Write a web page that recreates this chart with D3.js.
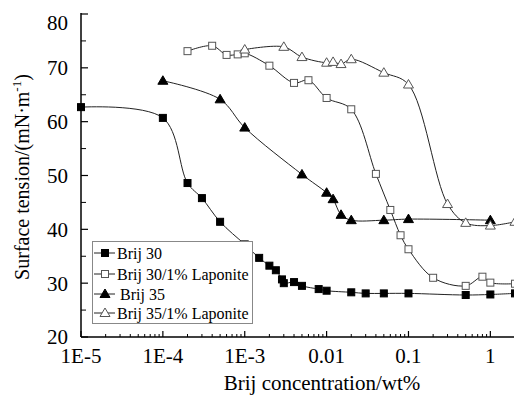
<!DOCTYPE html>
<html><head><meta charset="utf-8">
<script src="https://cdn.jsdelivr.net/npm/d3@7"></script>
<style>body{margin:0;background:#fff}svg{display:block}</style>
</head><body>
<svg id="c" width="514" height="396" font-family="'Liberation Serif', 'Times New Roman', Times, 'DejaVu Serif', serif"></svg>
<script>
// Data
const brij30X = [1e-5, 1e-4, 2e-4, 3e-4, 5e-4, 1e-3, 1.5e-3, 2e-3, 2.4e-3, 2.85e-3, 3e-3, 4e-3, 5e-3, 8e-3, 0.01, 0.02, 0.03, 0.05, 0.1, 0.5, 1, 2];
const brij30Y = [62.7, 60.7, 48.6, 45.8, 41.4, 37.2, 34.7, 33.25, 32.4, 30.7, 30.0, 30.2, 29.5, 28.9, 28.6, 28.3, 28.1, 28.1, 28.1, 27.8, 27.9, 28.1];
const brij30LapX = [2e-4, 4e-4, 6e-4, 8.2e-4, 1e-3, 2e-3, 4e-3, 6e-3, 0.01, 0.02, 0.04, 0.06, 0.08, 0.1, 0.2, 0.5, 0.8, 1, 2];
const brij30LapY = [73.1, 74.1, 72.4, 72.5, 72.7, 70.4, 67.2, 67.7, 64.4, 62.3, 50.3, 43.6, 38.9, 36.3, 31.0, 29.5, 31.2, 30.1, 29.9];
const brij35X = [1e-4, 5e-4, 1e-3, 5e-3, 0.01, 0.012, 0.015, 0.02, 0.05, 0.1, 1];
const brij35Y = [67.6, 64.15, 58.9, 50.2, 46.8, 45.6, 42.7, 41.7, 41.7, 41.9, 41.7];
const brij35LapX = [1e-3, 3e-3, 5e-3, 0.01, 0.012, 0.015, 0.02, 0.05, 0.1, 0.3, 0.5, 1, 2];
const brij35LapY = [73.4, 73.9, 72.0, 70.95, 71.1, 70.7, 71.6, 69.1, 66.9, 44.7, 41.2, 40.7, 41.4];
const seriesNames = ["Brij 30", "Brij 30/1% Laponite", "Brij 35", "Brij 35/1% Laponite"];
const xTickValues = [1e-5, 1e-4, 1e-3, 0.01, 0.1, 1];
const xTickLabels = ["1E-5", "1E-4", "1E-3", "0.01", "0.1", "1"];
const yTickValues = [20, 30, 40, 50, 60, 70, 80];

const series = [
  {name: seriesNames[0], xs: brij30X, ys: brij30Y, shape: "square", filled: true},
  {name: seriesNames[1], xs: brij30LapX, ys: brij30LapY, shape: "square", filled: false},
  {name: seriesNames[2], xs: brij35X, ys: brij35Y, shape: "triangle", filled: true},
  {name: seriesNames[3], xs: brij35LapX, ys: brij35LapY, shape: "triangle", filled: false}
];

const svg = d3.select("#c");
const L = 81, B = 337, T = 14;
const perDecade = 81.87;
const x = d3.scaleLog().domain([1e-5, 2]).range([L, L + perDecade * Math.log10(2e5)]);
const y = d3.scaleLinear().domain([20, 80]).range([B, T]);

const line = d3.line().x(d => x(d[0])).y(d => y(d[1])).curve(d3.curveCatmullRom.alpha(0.5));

const gPlot = svg.append("g");
series.forEach(s => {
  const pts = s.xs.map((v, i) => [v, s.ys[i]]);
  gPlot.append("path").attr("d", line(pts)).attr("fill", "none")
    .attr("stroke", "#222").attr("stroke-width", 1);
});

function marker(g, s, cx, cy) {
  const fill = s.filled ? "#000" : "#fff";
  const stroke = s.filled ? "#000" : "#555";
  if (s.shape === "square") {
    g.append("rect").attr("x", cx - 3.5).attr("y", cy - 3.5).attr("width", 7).attr("height", 7)
      .attr("fill", fill).attr("stroke", stroke).attr("stroke-width", 1);
  } else {
    const h = 4.5;
    g.append("path").attr("d", `M${cx},${cy - h - 0.5}L${cx + h + 0.5},${cy + h - 1}L${cx - h - 0.5},${cy + h - 1}Z`)
      .attr("fill", fill).attr("stroke", stroke).attr("stroke-width", 1);
  }
}
series.forEach(s => {
  s.xs.forEach((v, i) => marker(gPlot, s, x(v), y(s.ys[i])));
});

// Axes
const xAxis = svg.append("g").attr("transform", `translate(0,${B})`);
xAxis.append("line").attr("x1", L).attr("x2", 514).attr("y1", 0).attr("y2", 0).attr("stroke", "#000").attr("stroke-width", 1.5);
const minor = [];
for (let e = -5; e <= 0; e++) for (let m = 2; m <= 9; m++) { const v = m * Math.pow(10, e); if (v <= 2) minor.push(v); }
xAxis.selectAll(".mi").data(minor).join("line").attr("x1", d => x(d)).attr("x2", d => x(d))
  .attr("y1", 0).attr("y2", -3).attr("stroke", "#000").attr("stroke-width", 1);
xAxis.selectAll(".ma").data(xTickValues).join("line").attr("x1", d => x(d)).attr("x2", d => x(d))
  .attr("y1", 0).attr("y2", -6).attr("stroke", "#000").attr("stroke-width", 1.2);
xAxis.selectAll(".lb").data(xTickValues).join("text").attr("x", d => x(d)).attr("y", 26)
  .attr("text-anchor", "middle").attr("font-size", 21).text((d, i) => xTickLabels[i]);

const yAxis = svg.append("g");
yAxis.append("line").attr("x1", L).attr("x2", L).attr("y1", T - 1).attr("y2", B).attr("stroke", "#000").attr("stroke-width", 1.5);
const yMinor = d3.range(25, 80, 10);
yAxis.selectAll(".ymi").data(yMinor).join("line").attr("x1", L).attr("x2", L + 5)
  .attr("y1", d => y(d)).attr("y2", d => y(d)).attr("stroke", "#000").attr("stroke-width", 1);
yAxis.selectAll(".yma").data(yTickValues).join("line").attr("x1", L).attr("x2", L + 7)
  .attr("y1", d => y(d)).attr("y2", d => y(d)).attr("stroke", "#000").attr("stroke-width", 1.2);
yAxis.selectAll(".ylb").data(yTickValues).join("text").attr("x", L - 13)
  .attr("y", d => y(d) + (d === 80 ? 9 : 0)).attr("dy", "0.35em")
  .attr("text-anchor", "end").attr("font-size", 21).text(d => d);

// Axis titles
svg.append("text").attr("x", 322).attr("y", 390).attr("text-anchor", "middle").attr("font-size", 21)
  .text("Brij concentration/wt%");
const yt = svg.append("text").attr("transform", "translate(29,177) rotate(-90)").attr("text-anchor", "middle").attr("font-size", 20);
yt.append("tspan").text("Surface tension/(mN·m");
yt.append("tspan").attr("font-size", 13).attr("dy", -8).text("-1");
yt.append("tspan").attr("dy", 8).text(")");

// Legend
const lg = svg.append("g");
lg.append("rect").attr("x", 92.5).attr("y", 241.5).attr("width", 160).attr("height", 82)
  .attr("fill", "#fff").attr("stroke", "#888").attr("stroke-width", 1);
const rowY = [253, 274, 294, 313];
series.forEach((s, i) => {
  const ry = rowY[i];
  lg.append("line").attr("x1", 94).attr("x2", 115).attr("y1", ry).attr("y2", ry).attr("stroke", "#222").attr("stroke-width", 1);
  marker(lg, s, 105, ry);
  lg.append("text").attr("x", s.name === "Brij 35" ? 120 : 117).attr("y", ry).attr("dy", "0.35em")
    .attr("font-size", 16).text(s.name);
});
</script>
</body></html>
